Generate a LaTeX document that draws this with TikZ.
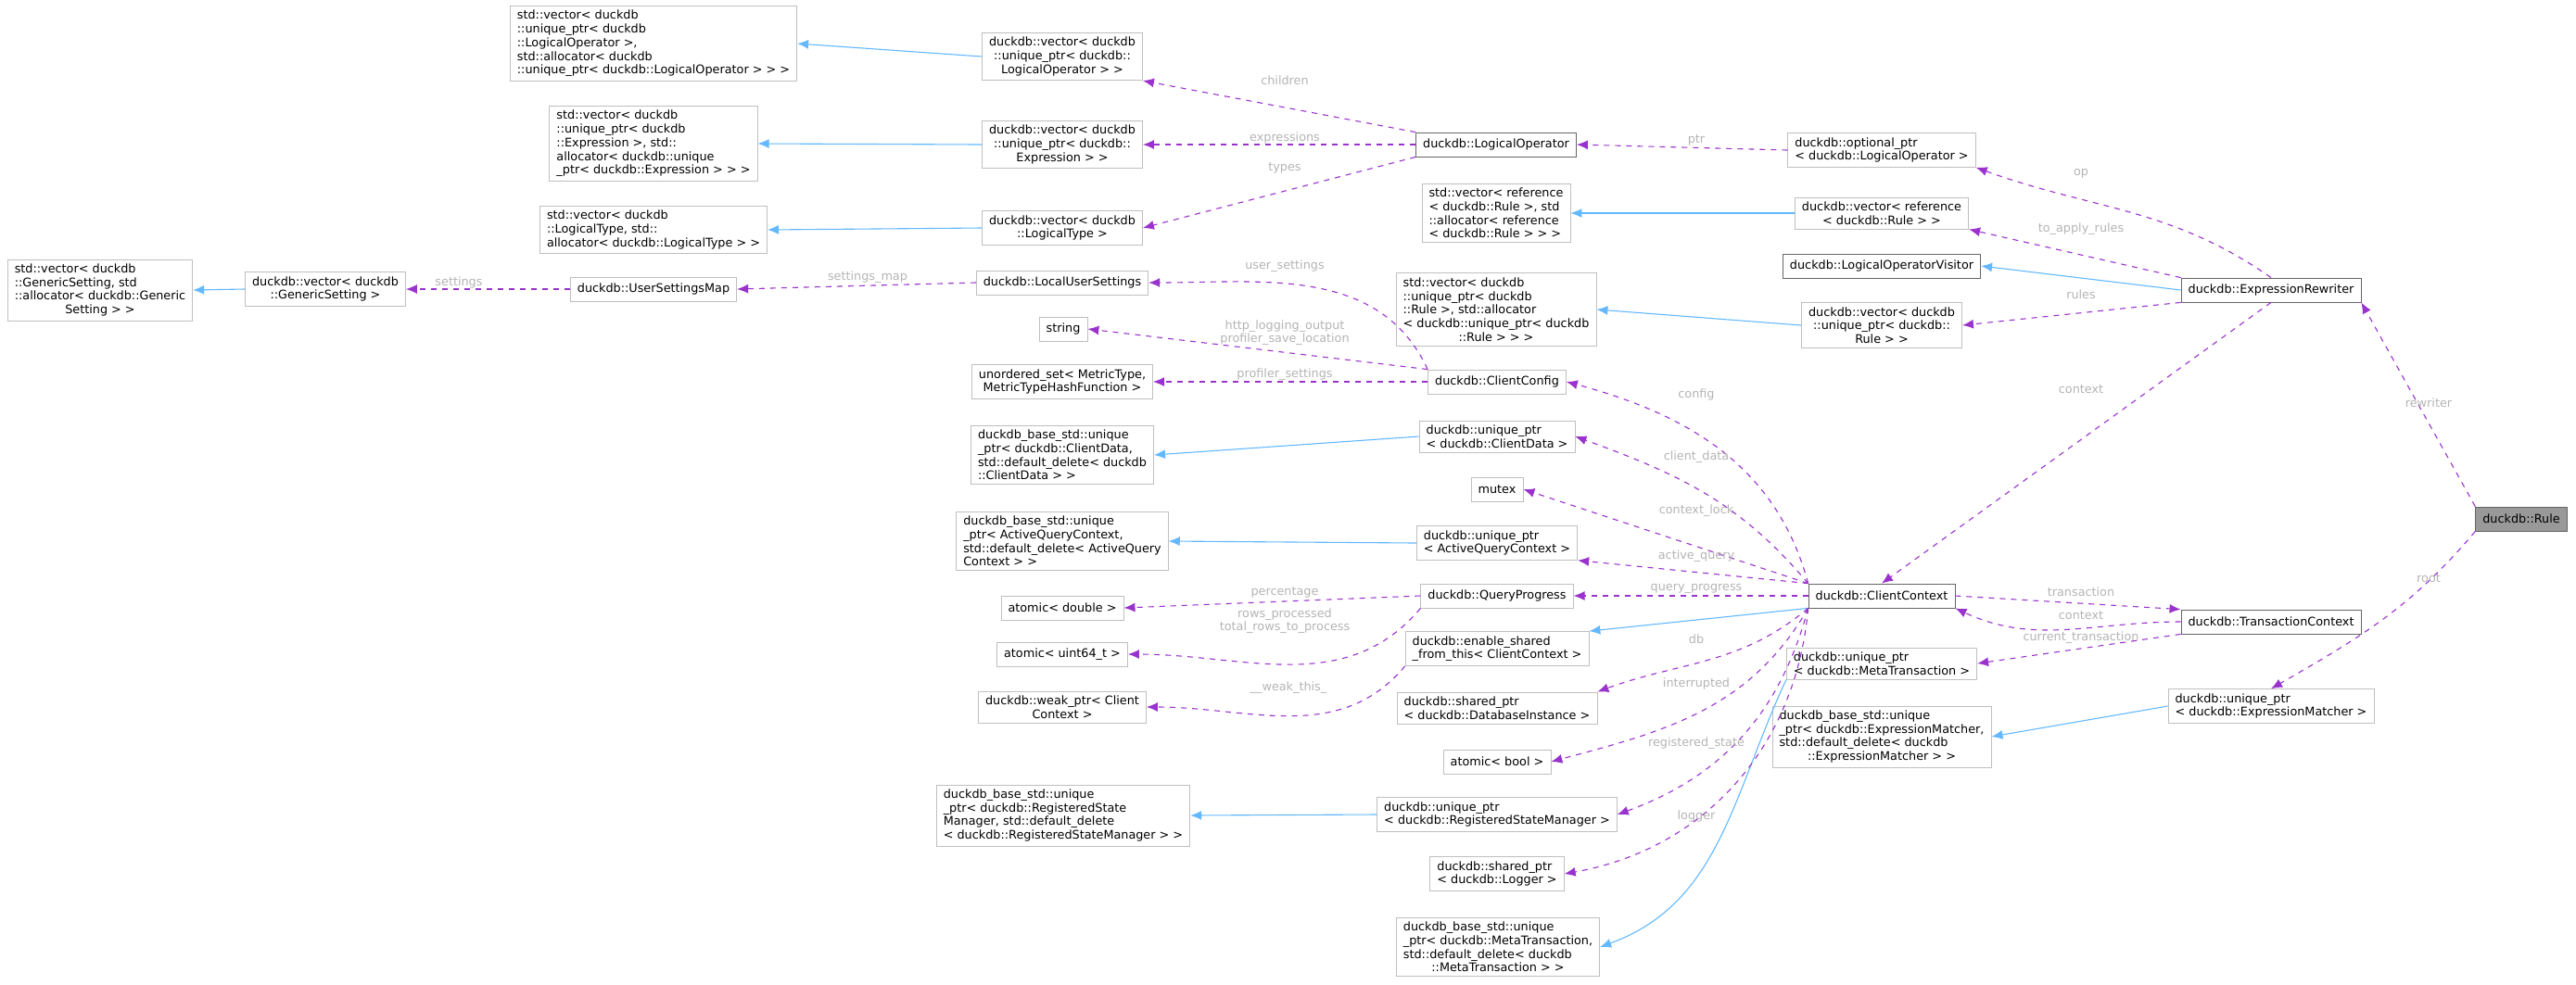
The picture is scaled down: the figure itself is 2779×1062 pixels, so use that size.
\documentclass[tikz,border=0pt]{standalone}
\usepackage{fontspec}
\setmainfont{DejaVu Sans}
\usetikzlibrary{arrows.meta}

\definecolor{inh}{HTML}{63B8FF}
\definecolor{use}{HTML}{9A32CD}
\definecolor{lblgray}{HTML}{B4B4B4}

\tikzset{
  box/.style={draw=black!25,fill=white,align=left,inner xsep=3.8pt,inner ysep=2.4pt,minimum height=13pt,font=\fontsize{6.4}{7.35}\selectfont},
  bbox/.style={box,draw=black!60},
  inherit/.style={draw=inh,line width=0.55pt,-{Latex[length=6pt,width=5pt]}},
  member/.style={draw=use,line width=0.55pt,dash pattern=on 3pt off 3pt,-{Latex[length=6pt,width=5pt]}},
  lbl/.style={text=lblgray,inner sep=0pt,font=\fontsize{6.4}{7.35}\selectfont}
}

\begin{document}
\begin{tikzpicture}[x=0.5pt,y=0.5pt]

    \useasboundingbox (0,0) rectangle (2779,-1062);

    % left columns
    \node[box] (stdVecLogOp) at (705,-47) {std::vector< duckdb\\::unique\_ptr< duckdb\\::LogicalOperator >,\\ std::allocator< duckdb\\::unique\_ptr< duckdb::LogicalOperator > > >};
    \node[box] (stdVecExpr) at (705,-155) {std::vector< duckdb\\::unique\_ptr< duckdb\\::Expression >, std::\\allocator< duckdb::unique\\\_ptr< duckdb::Expression > > >};
    \node[box] (stdVecType) at (705,-248) {std::vector< duckdb\\::LogicalType, std::\\allocator< duckdb::LogicalType > >};
    \node[box] (stdVecSetting) at (108,-313) {std::vector< duckdb\\::GenericSetting, std\\::allocator< duckdb::Generic\\\hfill Setting > >\hfill\null};
    \node[box,align=center] (vecSetting) at (351,-312) {duckdb::vector< duckdb\\::GenericSetting >};
    \node[box] (settingsMap) at (705,-312) {duckdb::UserSettingsMap};

    \node[box,align=center] (vecLogOp) at (1146,-61) {duckdb::vector< duckdb\\::unique\_ptr< duckdb::\\LogicalOperator > >};
    \node[box,align=center] (vecExpr) at (1146,-156) {duckdb::vector< duckdb\\::unique\_ptr< duckdb::\\Expression > >};
    \node[box,align=center] (vecType) at (1146,-246) {duckdb::vector< duckdb\\::LogicalType >};
    \node[box] (localSettings) at (1146,-305) {duckdb::LocalUserSettings};
    \node[box] (string) at (1147,-355) {string};
    \node[box,align=center] (metricSet) at (1146,-412) {unordered\_set< MetricType,\\MetricTypeHashFunction >};
    \node[box] (baseClientData) at (1146,-491) {duckdb\_base\_std::unique\\\_ptr< duckdb::ClientData,\\ std::default\_delete< duckdb\\::ClientData > >};
    \node[box] (baseActiveQuery) at (1146,-584) {duckdb\_base\_std::unique\\\_ptr< ActiveQueryContext,\\ std::default\_delete< ActiveQuery\\Context > >};
    \node[box] (atomicDouble) at (1146,-656) {atomic< double >};
    \node[box] (atomicUint) at (1146,-706) {atomic< uint64\_t >};
    \node[box,align=center] (weakPtr) at (1146,-763) {duckdb::weak\_ptr< Client\\Context >};
    \node[box] (baseRegState) at (1147,-880) {duckdb\_base\_std::unique\\\_ptr< duckdb::RegisteredState\\Manager, std::default\_delete\\< duckdb::RegisteredStateManager > >};

    % middle column
    \node[bbox] (logOp) at (1614,-156) {duckdb::LogicalOperator};
    \node[box] (stdVecRef) at (1614,-230) {std::vector< reference\\< duckdb::Rule >, std\\::allocator< reference\\< duckdb::Rule > > >};
    \node[box] (stdVecRule) at (1614,-334) {std::vector< duckdb\\::unique\_ptr< duckdb\\::Rule >, std::allocator\\< duckdb::unique\_ptr< duckdb\\\hfill::Rule > > >\hfill\null};
    \node[box] (clientConfig) at (1615,-412) {duckdb::ClientConfig};
    \node[box] (clientData) at (1615,-471) {duckdb::unique\_ptr\\< duckdb::ClientData >};
    \node[box] (mutex) at (1615,-528) {mutex};
    \node[box] (activeQuery) at (1615,-586) {duckdb::unique\_ptr\\< ActiveQueryContext >};
    \node[box] (queryProgress) at (1615,-643) {duckdb::QueryProgress};
    \node[box] (sharedFrom) at (1615,-700) {duckdb::enable\_shared\\\_from\_this< ClientContext >};
    \node[box] (dbInstance) at (1615,-764) {duckdb::shared\_ptr\\< duckdb::DatabaseInstance >};
    \node[box] (atomicBool) at (1615,-822) {atomic< bool >};
    \node[box] (regState) at (1615,-879) {duckdb::unique\_ptr\\< duckdb::RegisteredStateManager >};
    \node[box] (logger) at (1615,-943) {duckdb::shared\_ptr\\< duckdb::Logger >};
    \node[box] (baseMetaTrans) at (1616,-1022) {duckdb\_base\_std::unique\\\_ptr< duckdb::MetaTransaction,\\std::default\_delete< duckdb\\\hfill::MetaTransaction > >\hfill\null};

    % right columns
    \node[box] (optLogOp) at (2030,-162) {duckdb::optional\_ptr\\< duckdb::LogicalOperator >};
    \node[box,align=center] (vecRef) at (2030,-230) {duckdb::vector< reference\\< duckdb::Rule > >};
    \node[bbox] (visitor) at (2030,-287) {duckdb::LogicalOperatorVisitor};
    \node[box,align=center] (vecRule) at (2030,-351) {duckdb::vector< duckdb\\::unique\_ptr< duckdb::\\Rule > >};
    \node[bbox] (clientCtx) at (2030,-643) {duckdb::ClientContext};
    \node[box] (metaTrans) at (2030,-716) {duckdb::unique\_ptr\\< duckdb::MetaTransaction >};
    \node[box] (baseMatcher) at (2030,-795) {duckdb\_base\_std::unique\\\_ptr< duckdb::ExpressionMatcher,\\std::default\_delete< duckdb\\\hfill::ExpressionMatcher > >\hfill\null};

    \node[bbox] (rewriter) at (2450,-313) {duckdb::ExpressionRewriter};
    \node[bbox] (transCtx) at (2450,-671) {duckdb::TransactionContext};
    \node[box] (matcher) at (2450,-762) {duckdb::unique\_ptr\\< duckdb::ExpressionMatcher >};
    \node[bbox,fill=black!40] (rule) at (2720,-560) {duckdb::Rule};

    % inheritance
    \draw[inherit] (vecLogOp.west) -- (stdVecLogOp.east);
    \draw[inherit] (vecExpr.west) -- (stdVecExpr.east);
    \draw[inherit] (vecType.west) -- (stdVecType.east);
    \draw[inherit] (vecSetting.west) -- (stdVecSetting.east);
    \draw[inherit] (vecRef.west) -- (stdVecRef.east);
    \draw[inherit] (vecRule.west) -- (stdVecRule.east);
    \draw[inherit] (rewriter.west) -- (visitor.east);
    \draw[inherit] (clientData.west) -- (baseClientData.east);
    \draw[inherit] (activeQuery.west) -- (baseActiveQuery.east);
    \draw[inherit] (clientCtx.south west) -- (sharedFrom.north east);
    \draw[inherit] (regState.west) -- (baseRegState.east);
    \draw[inherit] (metaTrans.south west) to[out=-115,in=20] (baseMetaTrans.east);
    \draw[inherit] (matcher.west) -- (baseMatcher.east);

    % members
    \draw[member] (logOp.north west) -- (vecLogOp.south east);
    \draw[member] (logOp.west) -- (vecExpr.east);
    \draw[member] (logOp.south west) -- (vecType.east);
    \draw[member] (settingsMap.west) -- (vecSetting.east);
    \draw[member] (localSettings.west) -- (settingsMap.east);
    \draw[member] (optLogOp.west) -- (logOp.east);
    \draw[member] (clientConfig.north west) to[out=115,in=0] (localSettings.east);
    \draw[member] (clientConfig.north west) -- (string.east);
    \draw[member] (clientConfig.west) -- (metricSet.east);
    \draw[member] (clientCtx.north west) to[out=105,in=-15] (clientConfig.east);
    \draw[member] (clientCtx.north west) to[out=130,in=-20] (clientData.east);
    \draw[member] (clientCtx.north west) -- (mutex.east);
    \draw[member] (clientCtx.north west) -- (activeQuery.south east);
    \draw[member] (clientCtx.west) -- (queryProgress.east);
    \draw[member] (queryProgress.west) -- (atomicDouble.east);
    \draw[member] (queryProgress.south west) to[out=-130,in=0] (atomicUint.east);
    \draw[member] (sharedFrom.south west) to[out=-130,in=0] (weakPtr.east);
    \draw[member] (clientCtx.south west) to[out=-140,in=20] (dbInstance.north east);
    \draw[member] (clientCtx.south west) to[out=-120,in=15] (atomicBool.east);
    \draw[member] (clientCtx.south west) to[out=-105,in=20] (regState.east);
    \draw[member] (clientCtx.south west) to[out=-95,in=10] (logger.east);
    \draw[member] (clientCtx.east) -- (transCtx.north west);
    \draw[member] (transCtx.west) to[out=180,in=-25] (clientCtx.south east);
    \draw[member] (transCtx.south west) -- (metaTrans.east);
    \draw[member] (rewriter.north) to[out=145,in=-20] (optLogOp.south east);
    \draw[member] (rewriter.north west) -- (vecRef.south east);
    \draw[member] (rewriter.south west) -- (vecRule.east);
    \draw[member] (rewriter.south) -- (clientCtx.north);
    \draw[member] (rule.north west) -- (rewriter.south east);
    \draw[member] (rule.south west) to[out=-130,in=30] (matcher.north);

    % member labels
    \node[lbl] (lChildren) at (1386,-87) {children};
    \node[lbl] (lExpr) at (1386,-149) {expressions};
    \node[lbl] (lTypes) at (1386,-181) {types};
    \node[lbl] (lSettings) at (495,-305) {settings};
    \node[lbl] (lSettingsMap) at (936,-299) {settings\_map};
    \node[lbl] (lPtr) at (1830,-151) {ptr};
    \node[lbl] (lUser) at (1386,-287) {user\_settings};
    \node[lbl,align=center] (lHttp) at (1386,-359) {http\_logging\_output\\profiler\_save\_location};
    \node[lbl] (lProfiler) at (1386,-404) {profiler\_settings};
    \node[lbl] (lConfig) at (1830,-426) {config};
    \node[lbl] (lClientData) at (1830,-493) {client\_data};
    \node[lbl] (lLock) at (1830,-551) {context\_lock};
    \node[lbl] (lActive) at (1830,-600) {active\_query};
    \node[lbl] (lProgress) at (1830,-635) {query\_progress};
    \node[lbl] (lPercent) at (1386,-639) {percentage};
    \node[lbl,align=center] (lRows) at (1386,-670) {rows\_processed\\total\_rows\_to\_process};
    \node[lbl] (lWeak) at (1390,-742) {\_\_weak\_this\_};
    \node[lbl] (lDb) at (1830,-690) {db};
    \node[lbl] (lInterrupted) at (1830,-738) {interrupted};
    \node[lbl] (lRegState) at (1830,-802) {registered\_state};
    \node[lbl] (lLogger) at (1830,-881) {logger};
    \node[lbl] (lOp) at (2245,-187) {op};
    \node[lbl] (lToApply) at (2245,-247) {to\_apply\_rules};
    \node[lbl] (lRules) at (2245,-318) {rules};
    \node[lbl] (lContext) at (2245,-420) {context};
    \node[lbl] (lRewriter) at (2620,-435) {rewriter};
    \node[lbl] (lRoot) at (2620,-624) {root};
    \node[lbl] (lTrans) at (2245,-639) {transaction};
    \node[lbl] (lContext2) at (2245,-664) {context};
    \node[lbl] (lCurrent) at (2245,-688) {current\_transaction};
  \end{tikzpicture}
\end{document}
